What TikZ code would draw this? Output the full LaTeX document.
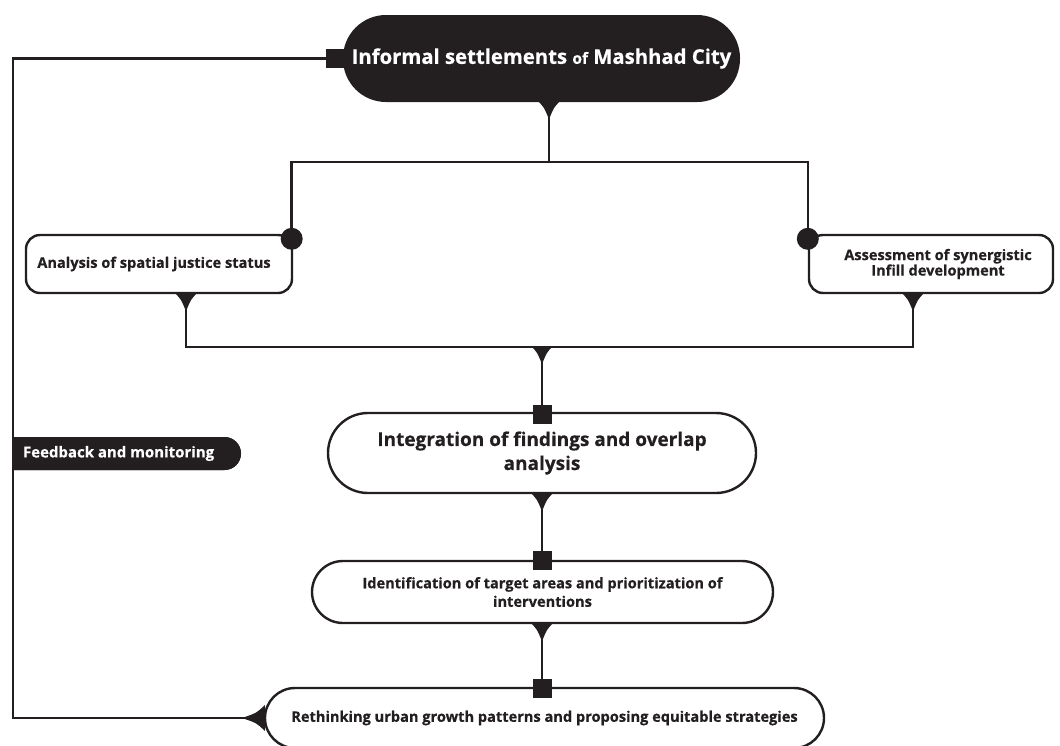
\documentclass[tikz,border=0pt]{standalone}
\usepackage{fontspec}
\setmainfont{Open Sans}[BoldFeatures={FakeBold=0.5}]
\usetikzlibrary{shapes.misc}
\definecolor{ink}{HTML}{231F20}
\begin{document}
\begin{tikzpicture}[x=1pt,y=-1pt,
  conn/.style={draw=ink, line width=2.6pt},
  sbox/.style={draw=ink, line width=2.4pt, fill=white, inner sep=0pt, align=center, text=ink,
    rounded corners=14pt, font=\fontsize{14.6}{15.5}\selectfont\bfseries},
  pill/.style={draw=ink, line width=2.4pt, fill=white, inner sep=0pt, align=center, text=ink,
    font=\fontsize{14.6}{18.5}\selectfont\bfseries},
  topbox/.style={fill=ink, inner sep=0pt, align=center, text=white, rounded corners=43pt,
    font=\fontsize{20.3}{24}\selectfont\bfseries},
  fbbox/.style={rounded rectangle, rounded rectangle west arc=none, fill=ink, inner sep=0pt},
  fbtext/.style={text=white, inner sep=0pt, font=\fontsize{15}{17}\selectfont\bfseries},
  dtri/.pic={\fill[ink] (-11,-1) -- (11,-1) .. controls (5,5) .. (0,17) .. controls (-5,5) .. (-11,-1) -- cycle;},
  ltri/.pic={\fill[ink] (1,-13) -- (1,13) .. controls (-7,5) .. (-22,0) .. controls (-7,-5) .. (1,-13) -- cycle;},
  sqmark/.pic={\fill[ink] (-9.5,-9.5) rectangle (9.5,9.5);}
]
\useasboundingbox (0,0) rectangle (1060,745);

% nodes
\node[topbox, minimum width=397pt, minimum height=87pt] (T) at (541.5,58.5)
  {Informal settlements {\fontsize{15.5}{18}\selectfont of} Mashhad City};
\node[sbox, minimum width=266pt, minimum height=58pt] (A) at (159,264)
  {Analysis of spatial justice status\hspace*{10pt}};
\node[sbox, minimum width=244pt, minimum height=58pt] (B) at (931,264)
  {\hspace*{14pt}Assessment of synergistic\\\hspace*{14pt}Infill development};
\node[pill, minimum width=428pt, minimum height=80pt, rounded corners=40pt,
  font=\fontsize{19}{24}\selectfont\bfseries] (C) at (542,453)
  {Integration of findings and overlap\\analysis};
\node[pill, minimum width=461pt, minimum height=62pt, rounded corners=31pt] (D) at (542.5,592)
  {Identification of target areas and prioritization of\\interventions};
\node[pill, minimum width=559pt, minimum height=60pt, rounded corners=30pt] (E) at (544.5,718)
  {Rethinking urban growth patterns and proposing equitable strategies};
\node[fbbox, minimum width=228pt, minimum height=33pt] (F) at (127,453.5) {};
\node[fbtext, anchor=west] (Ft) at ([xshift=10pt]F.west) {Feedback and monitoring};

% reference coordinates
\coordinate (L) at (13,0);
\coordinate (S) at (549,162);
\coordinate (M) at (542,347);
\coordinate (tT) at ([xshift=7.5pt]T.south);
\coordinate (tA) at ([xshift=27pt]A.south);
\coordinate (tB) at ([xshift=-18pt]B.south);
\coordinate (cA) at ([xshift=-1.5pt,yshift=-5pt]A.north east);
\coordinate (cB) at ([yshift=-5pt]B.north west);
\coordinate (tC) at (M |- C.south);
\coordinate (tD) at (M |- D.south);
\coordinate (sC) at ([yshift=-3pt]M |- C.north);
\coordinate (sD) at ([yshift=-1pt]M |- D.north);
\coordinate (sE) at ([yshift=-2pt]M |- E.north);

% connectors
\draw[conn] (T.west) -- (T.west -| L) -- (E.west -| L) -- (E.west);
\draw[conn] (tT) -- (S);
\draw[conn] (cA) -- (cA |- S) -- (cB |- S) -- (cB);
\draw[conn] (tA) -- (tA |- M) -- (tB |- M) -- (tB);
\draw[conn] (M) -- (sC);
\draw[conn] (tC) -- (sD);
\draw[conn] (tD) -- (sE);

% redraw feedback label over the line
\node[fbbox, minimum width=228pt, minimum height=33pt] at (F) {};
\node[fbtext, anchor=west] at (Ft.west) {Feedback and monitoring};

% markers
\pic at (tT) {dtri};
\pic at (tA) {dtri};
\pic at (tB) {dtri};
\pic at (M) {dtri};
\pic at (tC) {dtri};
\pic at (tD) {dtri};
\pic at (E.west) {ltri};
\pic at ([xshift=-7pt]T.west) {sqmark};
\pic at (sC) {sqmark};
\pic at (sD) {sqmark};
\pic at (sE) {sqmark};
\fill[ink] (cA) circle (11pt);
\fill[ink] (cB) circle (11pt);
\end{tikzpicture}
\end{document}
